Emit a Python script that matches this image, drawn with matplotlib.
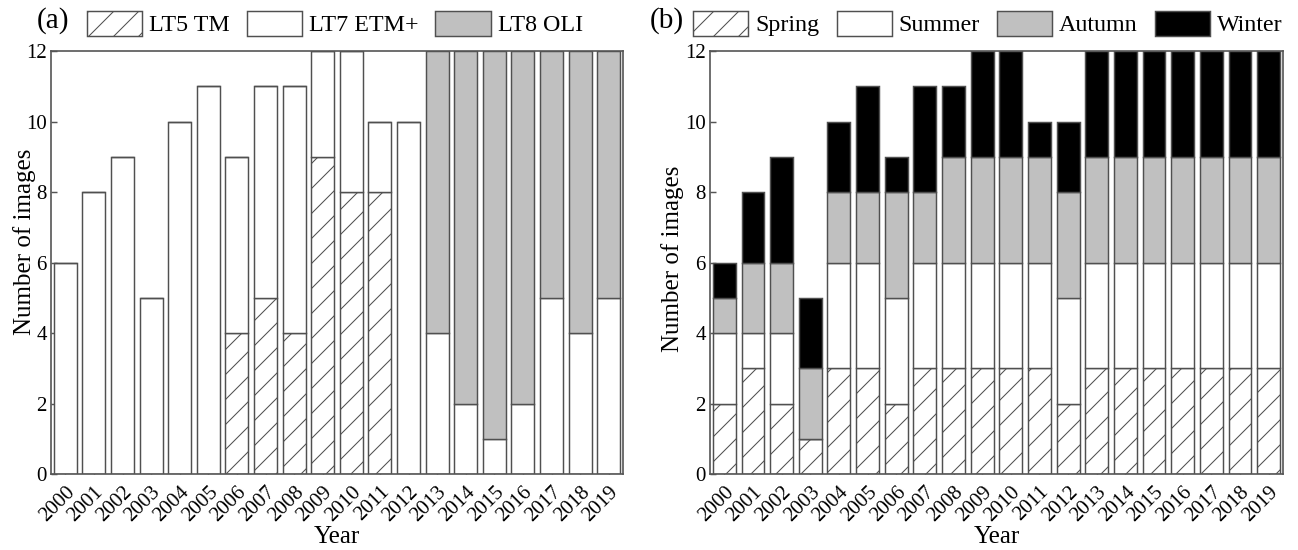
import matplotlib
matplotlib.use("Agg")
import matplotlib.pyplot as plt
import matplotlib.patches as mpatches
import numpy as np

# ── Data ───────────────────────────────────────────────
years = [str(y) for y in range(2000, 2020)]

# (a) images per sensor
lt5 = [0, 0, 0, 0, 0, 0, 4, 5, 4, 9, 8, 8, 0, 0, 0, 0, 0, 0, 0, 0]
lt7 = [6, 8, 9, 5, 10, 11, 5, 6, 7, 3, 4, 2, 10, 4, 2, 1, 2, 5, 4, 5]
lt8 = [0, 0, 0, 0, 0, 0, 0, 0, 0, 0, 0, 0, 0, 8, 10, 11, 10, 7, 8, 7]

# (b) images per season
spring = [2, 3, 2, 1, 3, 3, 2, 3, 3, 3, 3, 3, 2, 3, 3, 3, 3, 3, 3, 3]
summer = [2, 1, 2, 0, 3, 3, 3, 3, 3, 3, 3, 3, 3, 3, 3, 3, 3, 3, 3, 3]
autumn = [1, 2, 2, 2, 2, 2, 3, 2, 3, 3, 3, 3, 3, 3, 3, 3, 3, 3, 3, 3]
winter = [1, 2, 3, 2, 2, 3, 1, 3, 2, 3, 3, 1, 2, 3, 3, 3, 3, 3, 3, 3]

# ── Style ──────────────────────────────────────────────
DPI = 150
plt.rcParams.update({
    "font.family": ["Liberation Serif", "DejaVu Serif"],
    "font.size": 12,
    "hatch.linewidth": 0.5,
    "axes.linewidth": 0.8,
    "axes.edgecolor": "#555555",
})

EDGE = "#505050"
GRAY = "#c0c0c0"
BLACK = "#000000"
WHITE = "#ffffff"
HATCH = "//"

fig = plt.figure(figsize=(1298 / DPI, 550 / DPI), dpi=DPI)
ax_a = fig.add_axes([0.0393, 0.138, 0.4407, 0.769])
ax_b = fig.add_axes([0.547, 0.138, 0.4414, 0.769])

x = np.arange(len(years))
W = 0.8


def stack(ax, series, styles):
    bottom = np.zeros(len(years))
    for vals, (fc, hatch) in zip(series, styles):
        vals = np.array(vals, dtype=float)
        ax.bar(x, vals, W, bottom=bottom, color=fc, hatch=hatch,
               edgecolor=EDGE, linewidth=0.7, zorder=2)
        bottom += vals


def style_axes(ax, label_y):
    ax.set_xlim(-0.5, 19.5)
    ax.set_ylim(0, 12)
    ax.set_yticks(range(0, 13, 2))
    ax.set_xticks(x)
    ax.set_xticklabels(years, rotation=45, ha="right",
                       rotation_mode="anchor")
    ax.tick_params(axis="y", direction="in", length=3, width=0.7,
                   labelsize=10, pad=2, color="#555555")
    ax.tick_params(axis="x", direction="in", length=2.5, width=0.7,
                   labelsize=10, pad=4, color="#555555")
    ax.set_xlabel("Year", fontsize=12)
    ax.xaxis.set_label_coords(0.5, -0.122)
    ax.set_ylabel("Number of images", fontsize=12)
    ax.yaxis.set_label_coords(label_y[0], label_y[1])


stack(ax_a, [lt5, lt7, lt8],
      [(WHITE, HATCH), (WHITE, None), (GRAY, None)])
stack(ax_b, [spring, summer, autumn, winter],
      [(WHITE, HATCH), (WHITE, None), (GRAY, None), (BLACK, None)])
style_axes(ax_a, (-0.027, 0.55))
style_axes(ax_b, (-0.045, 0.51))

# ── Legends above each panel ───────────────────────────
leg_kw = dict(loc="lower left", frameon=False, borderaxespad=0,
              handlelength=2.3, handleheight=1.2, handletextpad=0.3,
              columnspacing=0.7, fontsize=11.5, borderpad=0)

h_a = [mpatches.Patch(facecolor=WHITE, edgecolor=EDGE, hatch=HATCH, lw=0.7, label="LT5 TM"),
       mpatches.Patch(facecolor=WHITE, edgecolor=EDGE, lw=0.7, label="LT7 ETM+"),
       mpatches.Patch(facecolor=GRAY, edgecolor=EDGE, lw=0.7, label="LT8 OLI")]
ax_a.legend(handles=h_a, ncol=3, bbox_to_anchor=(0.063, 1.035), **leg_kw)

h_b = [mpatches.Patch(facecolor=WHITE, edgecolor=EDGE, hatch=HATCH, lw=0.7, label="Spring"),
       mpatches.Patch(facecolor=WHITE, edgecolor=EDGE, lw=0.7, label="Summer"),
       mpatches.Patch(facecolor=GRAY, edgecolor=EDGE, lw=0.7, label="Autumn"),
       mpatches.Patch(facecolor=BLACK, edgecolor=EDGE, lw=0.7, label="Winter")]
ax_b.legend(handles=h_b, ncol=4, bbox_to_anchor=(-0.029, 1.035), **leg_kw)

fig.text(37 / 1298, 1 - 21 / 550, "(a)", fontsize=14, va="center", ha="left")
fig.text(650 / 1298, 1 - 21 / 550, "(b)", fontsize=14, va="center", ha="left")

fig.savefig("out.png", dpi=DPI)
